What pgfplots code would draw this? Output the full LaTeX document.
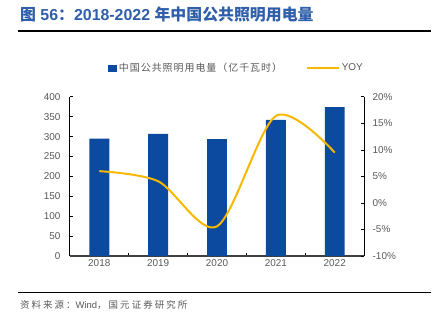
\documentclass[border=0pt]{standalone}
\usepackage{pgfplots}
\pgfplotsset{compat=1.18}
\usepackage{fontspec}
\setmainfont{Liberation Sans}
\newfontfamily\cjk{Noto Sans CJK SC}
\newfontfamily\cjkl[LetterSpace=10]{Noto Sans CJK SC}
\newfontfamily\cjks[LetterSpace=22]{Noto Sans CJK SC}
\definecolor{barblue}{HTML}{0B4A9E}
\definecolor{lineyel}{HTML}{F8B800}
\definecolor{titleblue}{HTML}{2F5FAA}
\definecolor{tickgray}{HTML}{595959}
\begin{document}
\begin{tikzpicture}[x=1bp,y=1bp]
\path (0,0) rectangle (432,323);
\node[anchor=west, text=titleblue, font=\fontsize{16}{18}\selectfont\bfseries, inner sep=0] at (20,308) {{\cjk 图} 56{\cjk ：}2018-2022 {\cjk 年中国公共照明用电量}};
\draw[line width=2bp] (18,291.7) -- (432,291.7);
\draw[line width=1.5bp] (18,29.7) -- (432,29.7);
\node[anchor=west, text=tickgray, font=\fontsize{9.5}{10}\selectfont, inner sep=0] at (20,17.3) {{\cjks 资料来源：}Wind{\cjks ，国元证券研究所}};
\begin{axis}[
  at={(70bp,66.3bp)}, anchor=south west, scale only axis,
  width=295bp, height=159.7bp,
  xmin=-0.5, xmax=4.5, ymin=0, ymax=400,
  ytick={0,50,...,400},
  xtick={0,...,4}, xticklabels={2018,2019,2020,2021,2022},
  major x tick style={draw=none},
  minor xtick={0.5,1.5,2.5,3.5},
  axis lines*=left,
  tick align=inside,
  major tick length=3bp, minor tick length=3bp,
  y axis line style={black, line width=0.8bp},
  x axis line style={black!75, line width=1.3bp},
  every tick/.style={black, line width=0.6bp},
  ticklabel style={font=\fontsize{10}{12}\selectfont, text=tickgray},
  yticklabel style={xshift=-6bp},
  /pgf/number format/assume math mode=true,
  legend style={at={(0.566,1.18)}, anchor=center, draw=none, fill=none,
    legend columns=2, font=\fontsize{10}{12}\selectfont, text=tickgray,
    /tikz/every even column/.append style={column sep=22bp}},
]
\addplot[ybar, bar width=20bp, fill=barblue, draw=none,
  legend image code/.code={\fill[barblue] (0bp,-3.5bp) rectangle (9bp,3.5bp);}]
  coordinates {(0,295) (1,307) (2,294) (3,342) (4,374)};
\addlegendentry{{\cjkl 中国公共照明用电量（亿千瓦时）}}
\addlegendimage{legend image code/.code={\draw[lineyel, line width=2bp] (0bp,0bp) -- (32bp,0bp);}}
\addlegendentry{YOY}
\end{axis}
\begin{axis}[
  at={(70bp,66.3bp)}, anchor=south west, scale only axis,
  width=295bp, height=159.7bp,
  xmin=-0.5, xmax=4.5, ymin=-10, ymax=20,
  ytick={-10,-5,...,20},
  axis y line*=right, axis x line=none,
  tick align=inside, major tick length=3bp,
  y axis line style={black, line width=0.8bp},
  every tick/.style={black, line width=0.6bp},
  ticklabel style={font=\fontsize{10}{12}\selectfont, text=tickgray},
  yticklabel={\pgfmathprintnumber{\tick}\%},
  yticklabel style={xshift=5bp},
  /pgf/number format/assume math mode=true,
]
\addplot[smooth, lineyel, line width=2bp, mark=none]
  coordinates {(0,6.0) (1,4.1) (2,-4.4) (3,16.4) (4,9.5)};
\end{axis}
\end{tikzpicture}
\end{document}
